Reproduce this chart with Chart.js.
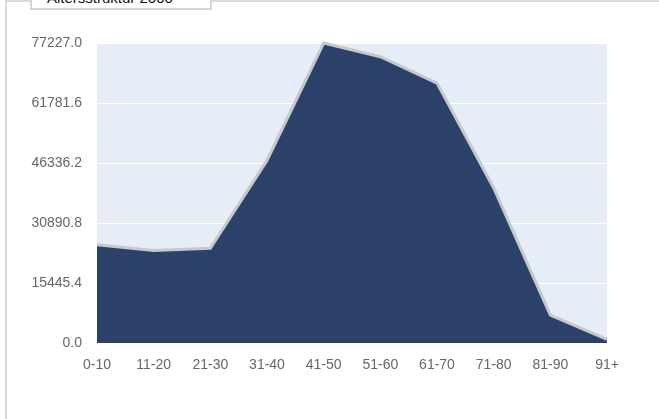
<!DOCTYPE html>
<html>
<head>
<meta charset="utf-8">
<script src="https://cdn.jsdelivr.net/npm/chart.js@4"></script>
<style>
  html, body { margin: 0; padding: 0; background: #fff; overflow: hidden; }
  #wrap { position: relative; width: 659px; height: 419px; overflow: hidden; }
  #frame {
    position: absolute; left: 5px; top: 0; width: 800px; height: 600px;
    border-left: 2px solid #d9d9d9; border-top: 2px solid #d9d9d9;
  }
  #title {
    position: absolute; left: 30px; top: -10px; width: 182px; height: 20px;
    border: 2px solid #d6d6d6; background: #fff;
    font: 15px "Liberation Sans", Arial, sans-serif; color: #111;
    padding-left: 15px; box-sizing: border-box; line-height: 12px;
  }
  canvas { position: absolute; left: 0; top: 0; }
</style>
</head>
<body>
<div id="wrap">
  <div id="frame"></div>
  <canvas id="chart" width="659" height="419"></canvas>
  <div id="title">Altersstruktur 2000</div>
</div>
<script>
const categories = ["0-10", "11-20", "21-30", "31-40", "41-50", "51-60", "61-70", "71-80", "81-90", "91+"]
const population = [25300, 23800, 24400, 47000, 77227, 73700, 66900, 39900, 7200, 950]
const yTicks = [0, 15445.4, 30890.8, 46336.2, 61781.6, 77227.0]

// paints the light plot background behind the grid
const plotBackground = {
  id: "plotBackground",
  beforeDraw(chart) {
    const { ctx, chartArea: a } = chart
    ctx.save()
    ctx.fillStyle = "#e6edf6"
    ctx.fillRect(a.left, a.top, a.right - a.left, a.bottom - a.top)
    ctx.restore()
  }
}

new Chart(document.getElementById("chart"), {
  type: "line",
  data: {
    labels: categories,
    datasets: [{
      data: population,
      borderColor: "#c8c8c8",
      backgroundColor: "#2b4169",
      fill: "origin",
      borderWidth: 3,
      tension: 0,
      pointRadius: 0,
      clip: 4
    }]
  },
  plugins: [plotBackground],
  options: {
    responsive: false,
    animation: false,
    events: [],
    layout: { padding: { top: 43, right: 52, left: 0, bottom: 0 } },
    plugins: { legend: { display: false }, tooltip: { enabled: false } },
    scales: {
      x: {
        offset: false,
        grid: { display: false },
        border: { display: false },
        ticks: {
          color: "#666",
          font: { family: "'Liberation Sans', Arial, sans-serif", size: 14 },
          padding: 6,
          maxRotation: 0,
          autoSkip: false
        },
        afterFit(scale) { scale.height = 76 }
      },
      y: {
        min: 0,
        max: yTicks[yTicks.length - 1],
        grid: { color: "#ffffff", lineWidth: 1, drawTicks: false },
        border: { display: false },
        afterBuildTicks(scale) { scale.ticks = yTicks.map((value) => ({ value })) },
        ticks: {
          color: "#666",
          font: { family: "'Liberation Sans', Arial, sans-serif", size: 14 },
          padding: 15,
          callback: (value) => Number(value).toFixed(1)
        },
        afterFit(scale) { scale.width = 97 }
      }
    }
  }
})
</script>
</body>
</html>
